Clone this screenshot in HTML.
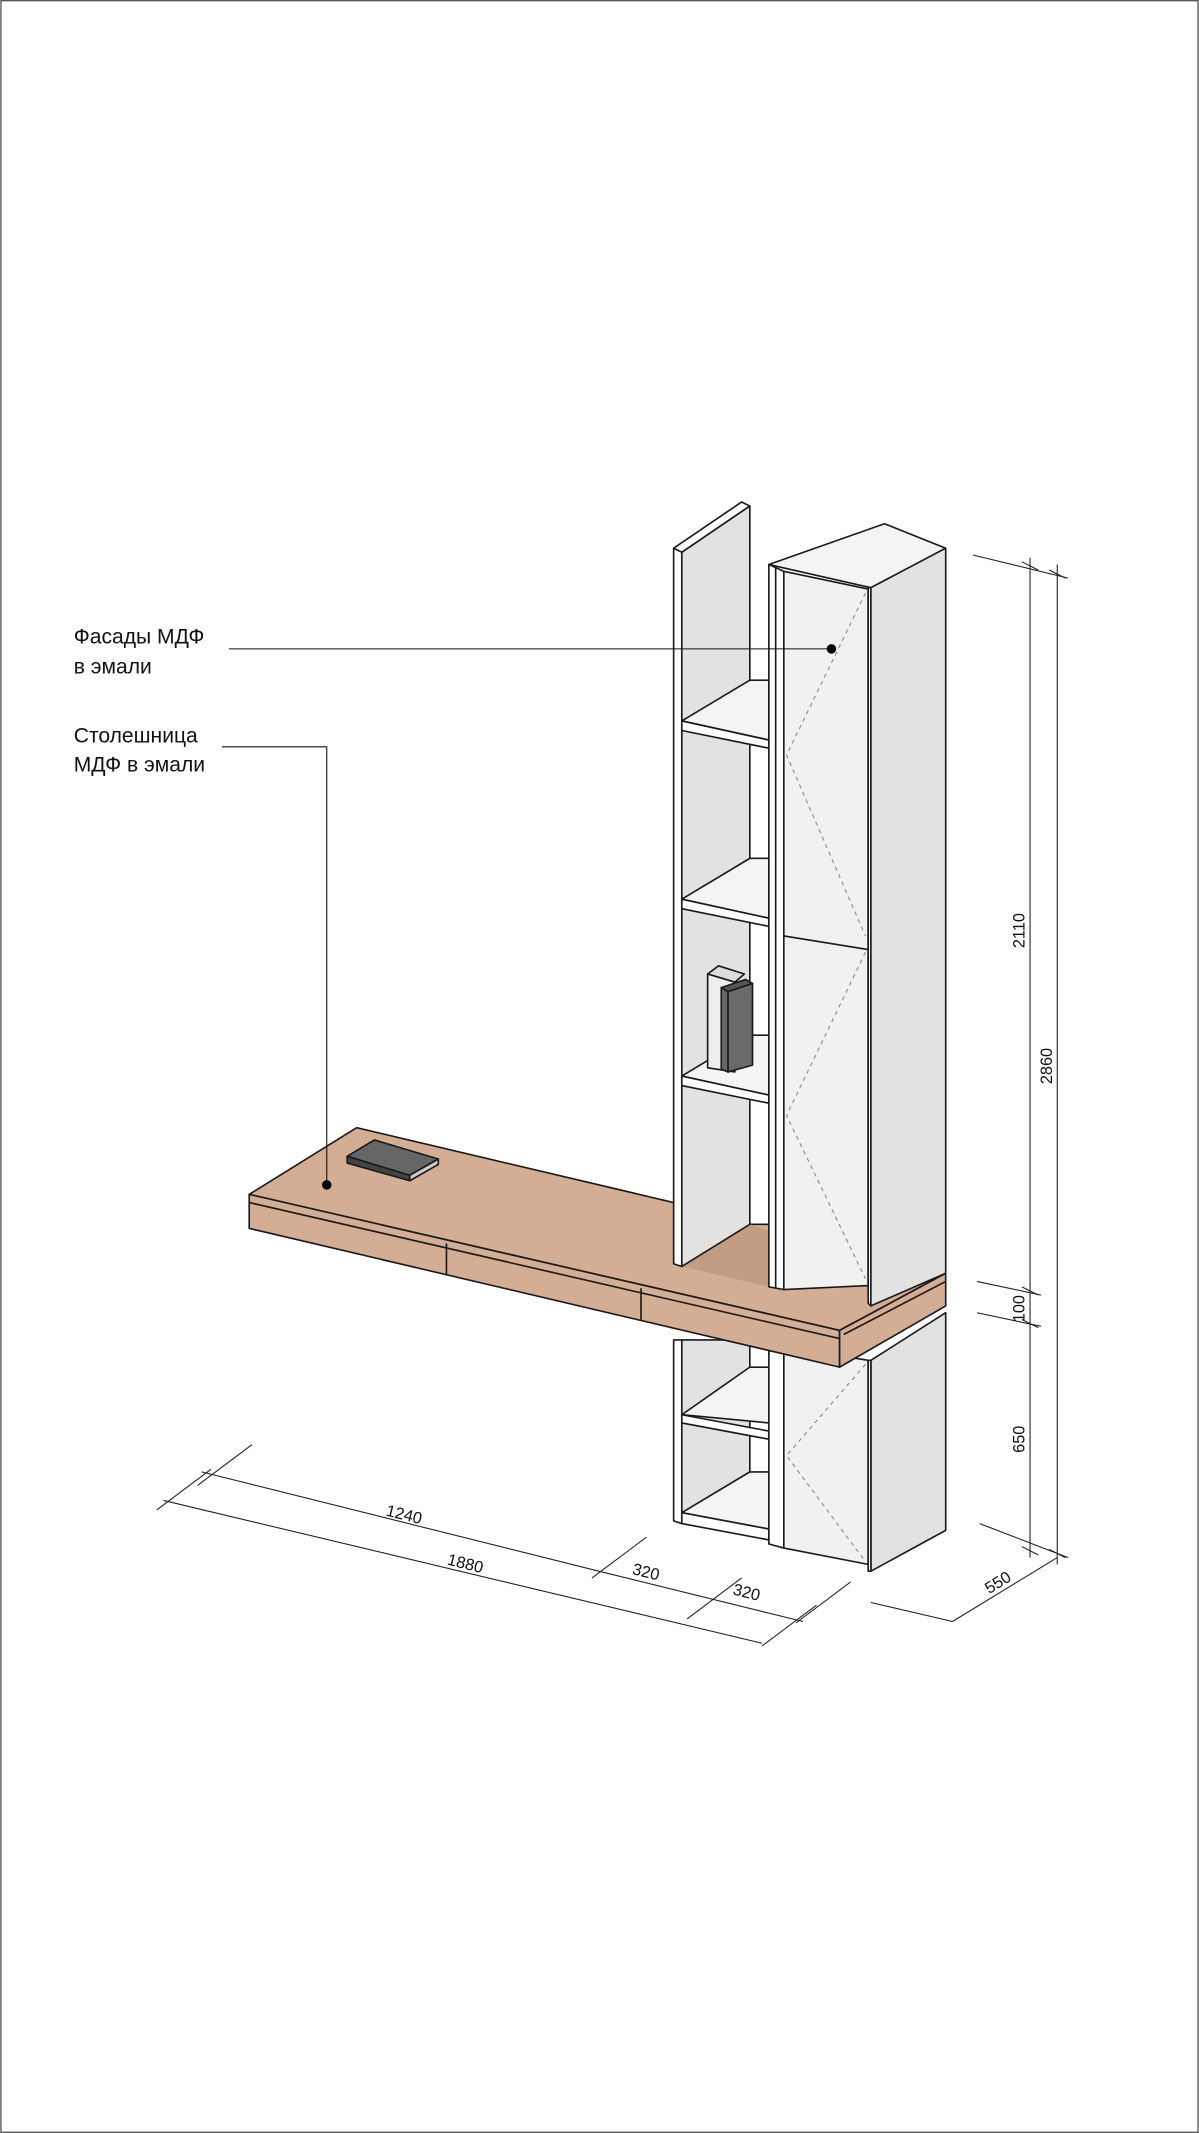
<!DOCTYPE html>
<html><head><meta charset="utf-8"><style>
html,body{margin:0;padding:0;background:#fff;}
svg{display:block;}
text{font-family:"Liberation Sans","DejaVu Sans",sans-serif;fill:#111;}
</style></head><body>
<svg width="1199" height="2133" viewBox="0 0 881 1568" xmlns="http://www.w3.org/2000/svg">
<rect x="0.5" y="0.5" width="880" height="1567" fill="#fff" stroke="#555" stroke-width="1"/>
<g stroke="#1a1a1a" stroke-width="1.2" stroke-linejoin="round">
<!-- lower open unit (below desk) -->
<polygon points="495,985 501,985 501,1120 495,1118" fill="#fff"/>
<polygon points="501,985 551,985 551,1100 501,1120" fill="#e2e2e2"/>
<polygon points="501,1040 551,1005 565,1005 565,1046 501,1040" fill="#f4f4f4"/>
<polygon points="501,1040 565,1052 565,1058 501,1046" fill="#fff"/>
<polygon points="501,1112 551,1082 565,1082 565,1124 " fill="#f4f4f4"/>
<polygon points="501,1112 565,1124 565,1132 501,1120" fill="#fff"/>
<!-- tall cabinet lower -->
<polygon points="565,990 576,990 576,1138 565,1135" fill="#fff"/>
<polygon points="576,990 638,1000 638,1150 576,1138" fill="#f1f1f1"/>
<polygon points="640,1000 695,965 695,1125 640,1155" fill="#e2e2e2"/>
<polygon points="638,1000 640,1000 640,1155 638,1155" fill="#fff"/>
<!-- desk -->
<polygon points="183,878 262,829 495,884 551,900 565,900 695,936 617,978" fill="#d4ae94"/>
<polygon points="501,931 551,900 565,905 565,946" fill="#c29c83" stroke="none"/>
<polygon points="183,878 617,978 617,1005 183,903" fill="#d4ae94"/>
<line x1="183" y1="884" x2="617" y2="984"/>
<polygon points="617,978 695,936 695,960 617,1005" fill="#d4ae94"/>
<line x1="620" y1="981" x2="695" y2="942"/>
<line x1="328" y1="914" x2="328" y2="937"/>
<line x1="471" y1="947" x2="471" y2="970"/>
<!-- upper open unit panel -->
<polygon points="495,403 545,369 551,372 501,406" fill="#fff"/>
<polygon points="495,403 501,406 501,931 495,929" fill="#fff"/>
<polygon points="501,406 551,372 551,900 501,931" fill="#e2e2e2"/>
<!-- shelves -->
<polygon points="501,530 551,500 565,500 565,544" fill="#f4f4f4"/>
<polygon points="501,530 565,544 565,550 501,537" fill="#fff"/>
<polygon points="501,661 551,631 565,631 565,675" fill="#f4f4f4"/>
<polygon points="501,661 565,675 565,681 501,668" fill="#fff"/>
<polygon points="501,791 551,761 565,761 565,805" fill="#f4f4f4"/>
<polygon points="501,791 565,805 565,811 501,798" fill="#fff"/>
<!-- books -->
<polygon points="520,716 528,710 547,716 540,722" fill="#ddd"/>
<polygon points="520,716 540,722 540,788 520,785" fill="#eee"/>
<polygon points="530,726 548,720 553,723 535,729" fill="#555"/>
<polygon points="530,726 535,729 535,788 530,786" fill="#666"/>
<polygon points="535,729 553,723 553,783 535,788" fill="#6a6a6a"/>
<!-- tall cabinet upper -->
<polygon points="565,415 650,385 695,403 640,432" fill="#f4f4f4"/>
<polygon points="565,415 576,420 576,948 565,946" fill="#fff"/>
<polyline points="570,417 570,947" fill="none"/>
<polygon points="576,420 638,433 638,945 576,948" fill="#f1f1f1"/>
<line x1="576" y1="688" x2="638" y2="698"/>
<polygon points="638,432 640,432 640,960 638,958" fill="#fff"/>
<polygon points="640,432 695,403 695,936 640,960" fill="#e2e2e2"/>
<!-- book on desk -->
<polygon points="255,850 275,838 322,852 301,864" fill="#666"/>
<polygon points="255,850 301,864 301,868 255,855" fill="#444"/>
<polygon points="301,864 322,852 322,856 301,868" fill="#ccc"/>
</g>
<!-- dashed door lines -->
<g stroke="#888" stroke-width="0.8" stroke-dasharray="3,3" fill="none">
<polyline points="636,436 578,555 636,688"/>
<polyline points="636,700 578,820 636,940"/>
<polyline points="636,1003 578,1070 636,1148"/>
</g>
<!-- leaders -->
<g stroke="#111" stroke-width="0.8" fill="none">
<line x1="168" y1="477" x2="611" y2="477"/>
<polyline points="163,549 240,549 240,870"/>
</g>
<circle cx="611" cy="477" r="3.5" fill="#000"/>
<circle cx="240" cy="871" r="3.5" fill="#000"/>
<text x="54" y="473" font-size="15.5">Фасады МДФ</text>
<text x="54" y="495" font-size="15.5">в эмали</text>
<text x="54" y="546" font-size="15.5">Столешница</text>
<text x="54" y="567" font-size="15.5">МДФ в эмали</text>
<!-- right dimensions -->
<g stroke="#222" stroke-width="0.8" fill="none">
<line x1="757" y1="410" x2="757" y2="1145"/>
<line x1="777" y1="415" x2="777" y2="1150"/>
<line x1="715" y1="408" x2="785" y2="425"/>
<line x1="718" y1="942" x2="765" y2="952"/>
<line x1="718" y1="965" x2="765" y2="975"/>
<line x1="720" y1="1120" x2="785" y2="1145"/>
<line x1="751" y1="413" x2="763" y2="419"/>
<line x1="771" y1="419" x2="783" y2="425"/>
<line x1="751" y1="946" x2="763" y2="952"/>
<line x1="751" y1="970" x2="763" y2="976"/>
<line x1="751" y1="1137" x2="763" y2="1143"/>
<line x1="771" y1="1139" x2="783" y2="1145"/>
<!-- bottom dims -->
<line x1="148" y1="1082" x2="440" y2="1155"/>
<line x1="120" y1="1103" x2="560" y2="1208"/>
<line x1="440" y1="1155" x2="590" y2="1192"/>
<line x1="600" y1="1180" x2="560" y2="1210"/>
<line x1="475" y1="1130" x2="435" y2="1160"/>
<line x1="545" y1="1160" x2="505" y2="1190"/>
<line x1="625" y1="1163" x2="585" y2="1193"/>
<line x1="185" y1="1062" x2="145" y2="1092"/>
<line x1="155" y1="1080" x2="115" y2="1110"/>
<line x1="640" y1="1178" x2="700" y2="1192"/>
<line x1="700" y1="1192" x2="777" y2="1145"/>
</g>
<g font-size="12">
<text transform="translate(753,697) rotate(-90)">2110</text>
<text transform="translate(773,797) rotate(-90)">2860</text>
<text transform="translate(753,972) rotate(-90)">100</text>
<text transform="translate(753,1068) rotate(-90)">650</text>
<text transform="translate(283,1114) rotate(14)">1240</text>
<text transform="translate(328,1150) rotate(14)">1880</text>
<text transform="translate(464,1157) rotate(14)">320</text>
<text transform="translate(538,1172) rotate(14)">320</text>
<text transform="translate(727,1172) rotate(-32)">550</text>
</g>
</svg>
</body></html>
